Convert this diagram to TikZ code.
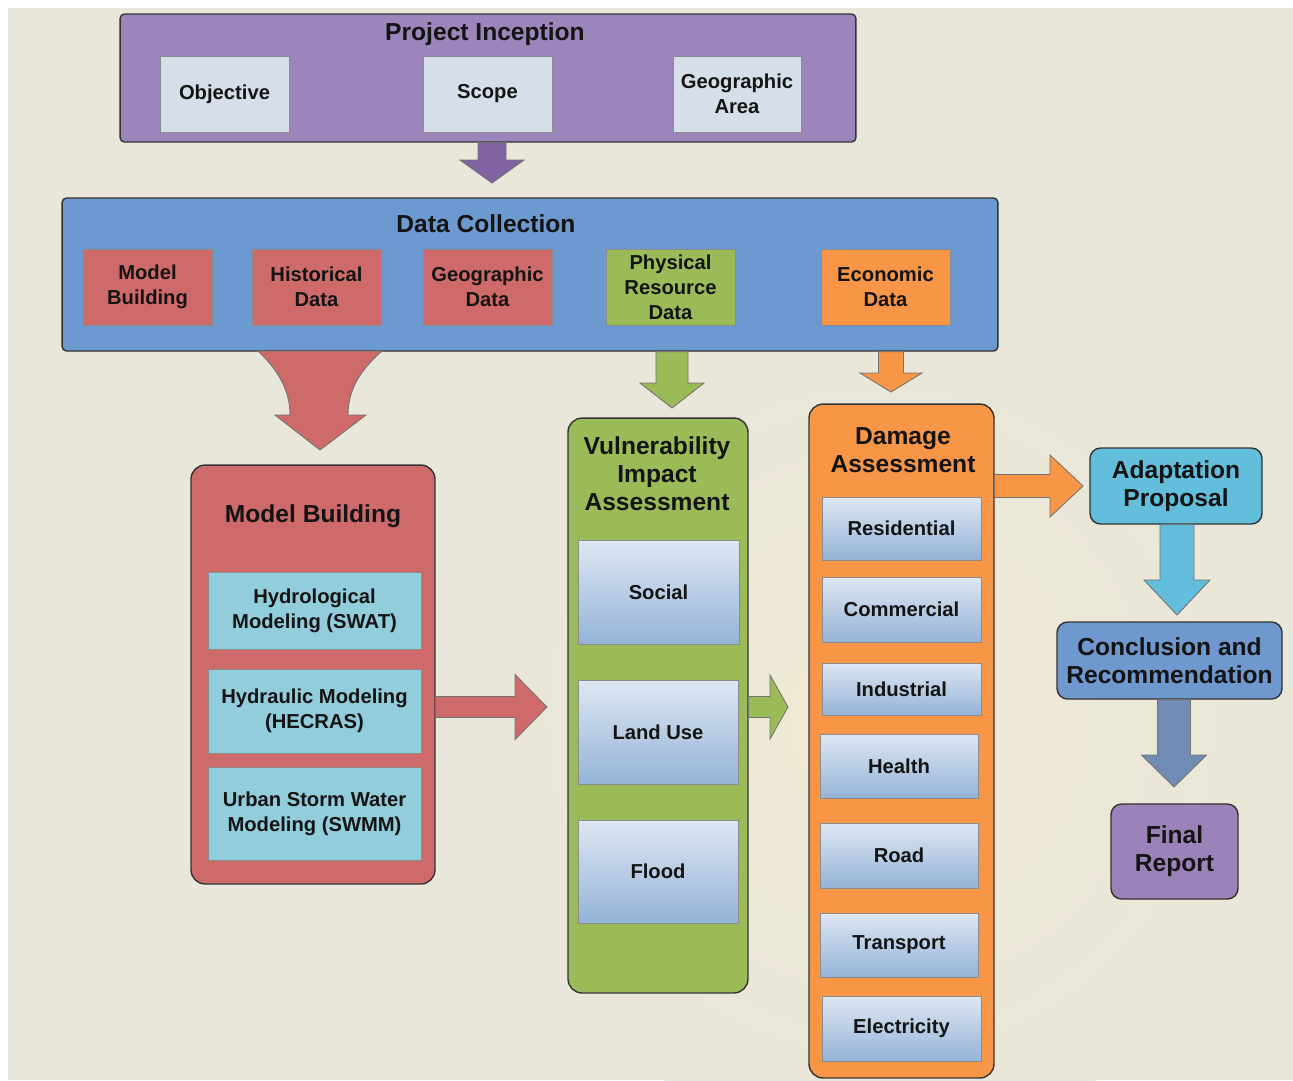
\documentclass[tikz,border=0pt]{standalone}
\usepackage{fontspec}
\setmainfont{Liberation Sans}
\usetikzlibrary{calc}

\definecolor{bgpaper}{RGB}{233,230,218}
\definecolor{bgglow}{RGB}{240,234,212}
\definecolor{ink}{RGB}{20,20,20}
\definecolor{pifill}{RGB}{156,133,186}
\definecolor{piarrow}{RGB}{128,100,162}
\definecolor{cellgrey}{RGB}{214,222,234}
\definecolor{dcfill}{RGB}{108,154,208}
\definecolor{redfill}{RGB}{206,106,106}
\definecolor{greenfill}{RGB}{155,187,89}
\definecolor{orangefill}{RGB}{247,150,70}
\definecolor{aquafill}{RGB}{146,205,220}
\definecolor{itemtop}{RGB}{222,231,243}
\definecolor{itembot}{RGB}{149,179,215}
\definecolor{apfill}{RGB}{98,190,218}
\definecolor{crfill}{RGB}{111,152,207}
\definecolor{crarrow}{RGB}{112,140,180}
\definecolor{frfill}{RGB}{155,130,185}

\newcommand{\cellfont}{\fontsize{11.5}{14.2}\selectfont\bfseries}
\newcommand{\headfont}{\fontsize{14}{16}\selectfont\bfseries}

% block arrows: start, tip, shaft half width, head half width, head length, style
\newcommand{\blockdown}[6]{%
  \draw[blockarrow,#6] let \p1=(#1), \p2=(#2) in
    (\x1-#3,\y1) -- (\x1-#3,\y2+#5) -- (\x1-#4,\y2+#5) -- (\x2,\y2)
    -- (\x1+#4,\y2+#5) -- (\x1+#3,\y2+#5) -- (\x1+#3,\y1) -- cycle;}
\newcommand{\blockright}[6]{%
  \draw[blockarrow,#6] let \p1=(#1), \p2=(#2) in
    (\x1,\y1+#3) -- (\x2-#5,\y1+#3) -- (\x2-#5,\y1+#4) -- (\x2,\y2)
    -- (\x2-#5,\y1-#4) -- (\x2-#5,\y1-#3) -- (\x1,\y1-#3) -- cycle;}

\tikzset{
  stage/.style = {draw=black!80, line width=0.8pt, rounded corners=8pt, inner sep=0pt},
  band/.style = {stage, rounded corners=2.5pt},
  cell/.style = {draw=black!45, line width=0.5pt, inner sep=1pt, align=center, font=\cellfont, text=ink},
  shadedcell/.style = {cell, top color=itemtop, bottom color=itembot},
  heading/.style = {align=center, font=\headfont, text=ink, inner sep=0pt},
  blockarrow/.style = {draw=black!55, line width=0.5pt},
}

\begin{document}
\begin{tikzpicture}[x=0.02cm, y=-0.02cm]
\useasboundingbox (0,0) rectangle (1293,1080);
\fill[white] (0,0) rectangle (1293,1080);
\fill[bgpaper] (8,8) rectangle (1293,1080);
\shade[inner color=bgglow, outer color=bgpaper] (880,720) circle (420);

% project inception
\node[band, fill=pifill, minimum width=14.72cm, minimum height=2.56cm] (pi) at (488,78) {};
\node[heading] (pititle) at (485,34) {Project Inception};
\node[cell, fill=cellgrey, minimum width=2.58cm, minimum height=1.52cm] (obj) at (224.5,94) {Objective};
\node[cell, fill=cellgrey, minimum width=2.58cm, minimum height=1.52cm] (scope) at (487.5,94) {Scope};
\node[cell, fill=cellgrey, minimum width=2.56cm, minimum height=1.52cm] (area) at (737,94) {Geographic\\Area};

% data collection
\node[band, fill=dcfill, minimum width=18.72cm, minimum height=3.06cm] (dc) at (530,274.5) {};
\node[heading] (dctitle) at (486,223.5) {Data Collection};
\node[cell, fill=redfill, minimum width=2.58cm, minimum height=1.52cm] (dcmodel) at (147.5,287) {Model\\Building};
\node[cell, fill=redfill, minimum width=2.58cm, minimum height=1.52cm] (hist) at (316.5,287) {Historical\\Data};
\node[cell, fill=redfill, minimum width=2.58cm, minimum height=1.52cm] (geo) at (487.5,287) {Geographic\\Data};
\node[cell, fill=greenfill, minimum width=2.58cm, minimum height=1.52cm] (phys) at (670.5,287) {Physical\\Resource\\Data};
\node[cell, fill=orangefill, minimum width=2.58cm, minimum height=1.52cm] (econ) at (885.5,287) {Economic\\Data};

% model building
\node[stage, fill=redfill, minimum width=4.88cm, minimum height=8.38cm] (mb) at (313,674.5) {};
\node[heading] (mbtitle) at (313,516) {Model Building};
\node[cell, fill=aquafill, minimum width=4.26cm, minimum height=1.54cm] (hydro) at (314.5,610.5) {Hydrological\\Modeling (SWAT)};
\node[cell, fill=aquafill, minimum width=4.26cm, minimum height=1.68cm] (hydra) at (314.5,711) {Hydraulic Modeling\\(HECRAS)};
\node[cell, fill=aquafill, minimum width=4.26cm, minimum height=1.86cm] (urban) at (314.5,813.5) {Urban Storm Water\\Modeling (SWMM)};

% vulnerability impact assessment
\node[stage, fill=greenfill, minimum width=3.6cm, minimum height=11.5cm] (via) at (658,705.5) {};
\node[heading] (viatitle) at (657,474) {Vulnerability\\Impact\\Assessment};
\node[shadedcell, minimum width=3.22cm, minimum height=2.08cm] (social) at (658.5,592) {Social};
\node[shadedcell, minimum width=3.2cm, minimum height=2.08cm] (landuse) at (658,732) {Land Use};
\node[shadedcell, minimum width=3.2cm, minimum height=2.06cm] (flood) at (658,871.5) {Flood};

% damage assessment
\node[stage, fill=orangefill, minimum width=3.7cm, minimum height=13.48cm] (da) at (901.5,741) {};
\node[heading] (datitle) at (903,450) {Damage\\Assessment};
\node[shadedcell, minimum width=3.18cm, minimum height=1.26cm] (resid) at (901.5,528.5) {Residential};
\node[shadedcell, minimum width=3.18cm, minimum height=1.3cm] (comm) at (901.5,609.5) {Commercial};
\node[shadedcell, minimum width=3.18cm, minimum height=1.04cm] (indus) at (901.5,689) {Industrial};
\node[shadedcell, minimum width=3.16cm, minimum height=1.28cm] (health) at (899,766) {Health};
\node[shadedcell, minimum width=3.16cm, minimum height=1.3cm] (road) at (899,855.5) {Road};
\node[shadedcell, minimum width=3.16cm, minimum height=1.28cm] (trans) at (899,945) {Transport};
\node[shadedcell, minimum width=3.18cm, minimum height=1.3cm] (elec) at (901.5,1028.5) {Electricity};

% right column
\node[stage, fill=apfill, rounded corners=6pt, minimum width=3.44cm, minimum height=1.52cm, font=\headfont, align=center, text=ink] (ap) at (1176,486) {Adaptation\\Proposal};
\node[stage, fill=crfill, rounded corners=6pt, minimum width=4.5cm, minimum height=1.54cm, font=\headfont, align=center, text=ink] (cr) at (1169.5,660.5) {Conclusion and\\Recommendation};
\node[stage, fill=frfill, rounded corners=6pt, minimum width=2.54cm, minimum height=1.9cm, font=\headfont, align=center, text=ink] (fr) at (1174.5,851.5) {Final\\Report};

% arrow tips
\coordinate (piTip) at (492,183);
\coordinate (physTip) at (672,408);
\coordinate (econTip) at (891,392);
\coordinate (mbTip) at (547,707);
\coordinate (viaTip) at (788,707);
\coordinate (daTip) at (1083,486);
\coordinate (apTip) at (1177,615);
\coordinate (crTip) at (1174,787);

\blockdown{piTip |- pi.south}{piTip}{0.28cm}{0.64cm}{0.46cm}{fill=piarrow}
\blockdown{physTip |- dc.south}{physTip}{0.32cm}{0.64cm}{0.5cm}{fill=greenfill}
\blockdown{econTip |- dc.south}{econTip}{0.25cm}{0.62cm}{0.38cm}{fill=orangefill}
\blockdown{apTip |- ap.south}{apTip}{0.34cm}{0.66cm}{0.7cm}{fill=apfill}
\blockdown{crTip |- cr.south}{crTip}{0.33cm}{0.65cm}{0.64cm}{fill=crarrow}
\blockright{mb.east |- mbTip}{mbTip}{0.21cm}{0.65cm}{0.64cm}{fill=redfill}
\blockright{via.east |- viaTip}{viaTip}{0.21cm}{0.64cm}{0.36cm}{fill=greenfill}
\blockright{da.east |- daTip}{daTip}{0.23cm}{0.62cm}{0.66cm}{fill=orangefill}

% funnel arrow into model building
\draw[blockarrow, fill=redfill] (258,351) .. controls (280,372) and (290,392) .. (290,415)
  -- (275,415) -- (320,450) -- (366,415) -- (348,415)
  .. controls (348,392) and (358,372) .. (382,351) -- cycle;
\end{tikzpicture}
\end{document}
